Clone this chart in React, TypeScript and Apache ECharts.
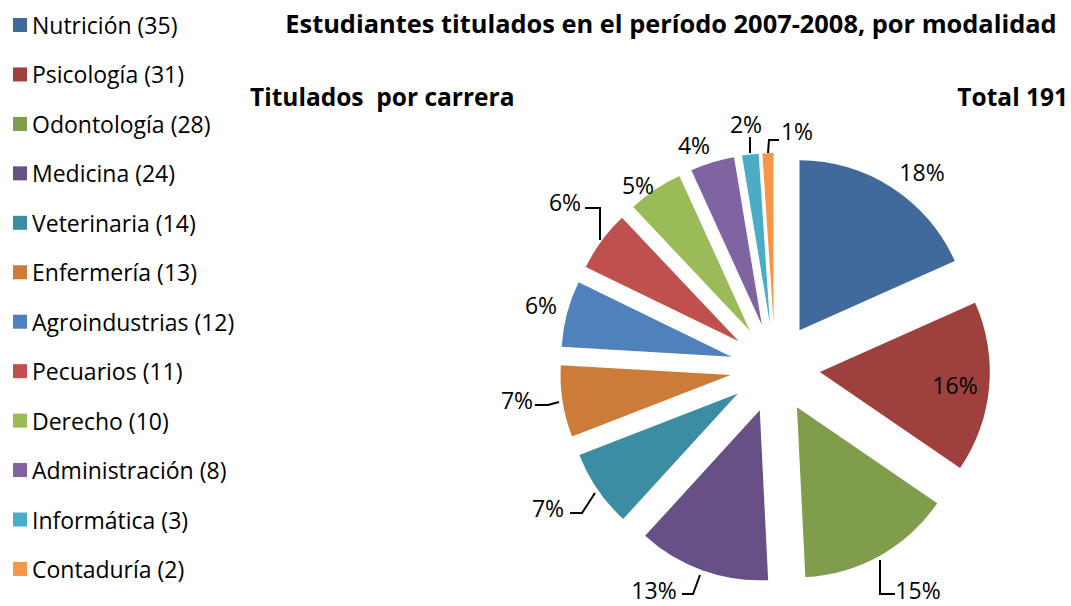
import React, { useEffect, useRef } from "react";
import * as echarts from "echarts";

const categories = ["Nutrición", "Psicología", "Odontología", "Medicina", "Veterinaria", "Enfermería", "Agroindustrias", "Pecuarios", "Derecho", "Administración", "Informática", "Contaduría"];
const values = [35, 31, 28, 24, 14, 13, 12, 11, 10, 8, 3, 2];
const colors = ["#416A9C", "#9E413E", "#7F9D4A", "#675085", "#3C8DA3", "#CC7B38", "#4F81BD", "#C0504D", "#9BBB59", "#8064A2", "#4BACC6", "#F79646"];
const mainTitle = "Estudiantes titulados en el período 2007-2008, por modalidad";
const subTitle = "Titulados  por carrera";
const total = values.reduce((a, b) => a + b, 0);
const totalText = "Total " + total;

// label anchors (centre of text) and leader lines, as placed by the original layout
const labelAnchors: [number, number][] = [
  [922, 172], [955, 385], [918, 590], [654, 590], [548, 508], [517, 400],
  [541, 305], [565, 202], [638, 185], [694, 145], [746, 124], [797, 131],
];
const leaderLines: ([number, number][] | null)[] = [
  null, null,
  [[880, 560], [880, 594], [895, 594]],
  [[700, 575], [693, 594], [682, 594]],
  [[595, 493], [582, 513], [570, 513]],
  [[559, 402], [548, 405], [535, 405]],
  null,
  [[600, 240], [600, 208], [585, 208]],
  null, null,
  [[750, 153], [750, 137], [750, 137]],
  [[768, 153], [769, 140], [779, 140]],
];

const FONT = "'Open Sans', sans-serif";
const CENTER = [775, 368];
const RADIUS = 170;

export default function App() {
  const ref = useRef<HTMLDivElement>(null);
  useEffect(() => {
    const chart = echarts.init(ref.current!, undefined, { renderer: "svg" });
    const sliceData = categories.map((c, i) => ({
      name: c,
      value: values[i],
      selected: true,
      itemStyle: { color: colors[i] },
    }));
    const labelData = categories.map((c, i) => ({
      name: c,
      value: values[i],
      labelLine: { show: leaderLines[i] !== null },
    }));
    const titleStyle = { fontFamily: FONT, fontSize: 24.5, fontWeight: "bold", color: "#000", lineHeight: 30 };
    chart.setOption({
      animation: false,
      title: [
        { text: mainTitle, left: 671, top: 8, padding: 0, textAlign: "center", textStyle: { ...titleStyle, fontSize: 25.4 } },
        { text: subTitle, left: 250, top: 81, padding: 0, textStyle: titleStyle },
        { text: totalText, right: 3, top: 81, padding: 0, textStyle: titleStyle },
      ],
      legend: {
        orient: "vertical",
        left: 13,
        top: 13.5,
        padding: 0,
        itemWidth: 14,
        itemHeight: 14,
        itemGap: 26.45,
        icon: "rect",
        selectedMode: false,
        data: categories,
        formatter: (name: string) => {
          const i = categories.indexOf(name);
          return name + " (" + values[i] + ")";
        },
        textStyle: { fontFamily: FONT, fontSize: 23, color: "#000", lineHeight: 23 },
      },
      series: [
        {
          type: "pie",
          center: CENTER,
          radius: RADIUS,
          startAngle: 90,
          selectedMode: "multiple",
          selectedOffset: 45,
          data: sliceData,
          label: { show: false },
          labelLine: { show: false },
          emphasis: { disabled: true },
        },
        {
          type: "pie",
          center: CENTER,
          radius: RADIUS,
          startAngle: 90,
          silent: true,
          selectedMode: false,
          data: labelData,
          itemStyle: { color: "rgba(0,0,0,0)" },
          label: {
            show: true,
            fontFamily: FONT,
            fontSize: 23,
            lineHeight: 23,
            color: "#000",
            formatter: (p: any) => Math.round((p.value / total) * 100) + "%",
          },
          labelLine: { show: true, length: 12, length2: 12, lineStyle: { color: "#000", width: 2 } },
          labelLayout: (p: any) => {
            const i = p.dataIndex;
            const a = labelAnchors[i];
            const res: any = { x: a[0], y: a[1], align: "center", verticalAlign: "middle", hideOverlap: false };
            const l = leaderLines[i];
            if (l) res.labelLinePoints = l;
            return res;
          },
          emphasis: { disabled: true },
        },
      ],
    });
    return () => chart.dispose();
  }, []);
  return <div ref={ref} style={{ position: "absolute", left: 0, top: 0, width: 1071, height: 606 }} />;
}
